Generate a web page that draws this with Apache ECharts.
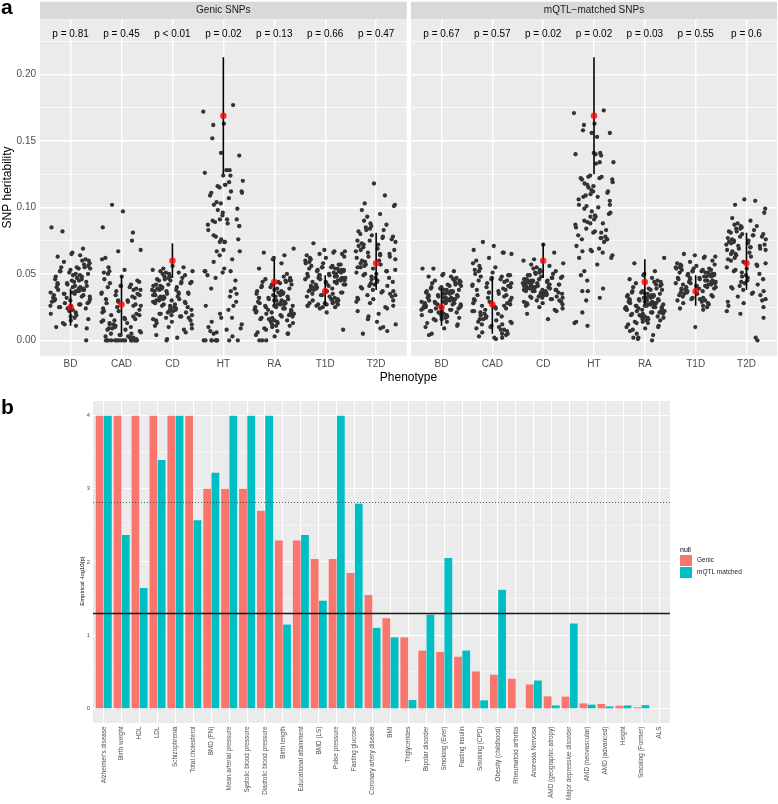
<!DOCTYPE html>
<html><head><meta charset="utf-8">
<script src="https://cdn.jsdelivr.net/npm/echarts@6.0.0/dist/echarts.min.js"></script>
<style>html,body{margin:0;padding:0;background:#fff}#c{width:778px;height:804px}</style>
</head><body><div id="c"></div>
<script>
// ---------- Panel a data ----------
const phenotypes = ['BD','CAD','CD','HT','RA','T1D','T2D'];
const heritTicks = [0, 0.05, 0.10, 0.15, 0.20];
const heritMinor = [0.025, 0.075, 0.125, 0.175, 0.225];
const pLabelsGenic = ['p = 0.81','p = 0.45','p < 0.01','p = 0.02','p = 0.13','p = 0.66','p = 0.47'];
const pLabelsMqtl  = ['p = 0.67','p = 0.57','p = 0.02','p = 0.02','p = 0.03','p = 0.55','p = 0.6'];
const pLabelY = 0.23;
const obsMean = [0.025, 0.027, 0.060, 0.169, 0.044, 0.037, 0.058];
const obsLow  = [0.011, 0.005, 0.047, 0.125, 0.027, 0.026, 0.038];
const obsHigh = [0.039, 0.048, 0.073, 0.213, 0.061, 0.049, 0.081];

const genicBD = [0.085,0.082,0.069,0.066,0.065,0.064,0.063,0.061,0.060,0.060,0.059,0.058,0.057,0.056,0.055,0.055,0.055,0.054,0.054,0.053,0.052,0.052,0.051,0.050,0.050,0.049,0.049,0.048,0.048,0.047,0.046,0.046,0.045,0.045,0.044,0.044,0.043,0.043,0.042,0.042,0.041,0.041,0.040,0.040,0.040,0.039,0.039,0.038,0.038,0.038,0.037,0.037,0.036,0.036,0.035,0.035,0.035,0.034,0.034,0.033,0.033,0.032,0.032,0.031,0.031,0.030,0.030,0.029,0.029,0.028,0.028,0.027,0.027,0.026,0.026,0.025,0.025,0.024,0.024,0.023,0.022,0.021,0.020,0.019,0.018,0.017,0.016,0.015,0.013,0.012,0.011,0.010,0.009,0.000];
const genicCAD = [0.102,0.097,0.085,0.081,0.075,0.068,0.067,0.062,0.061,0.055,0.053,0.052,0.051,0.050,0.048,0.046,0.045,0.044,0.043,0.042,0.041,0.041,0.040,0.040,0.039,0.038,0.038,0.037,0.036,0.035,0.035,0.034,0.034,0.033,0.032,0.031,0.030,0.030,0.029,0.029,0.028,0.027,0.026,0.026,0.025,0.024,0.023,0.022,0.022,0.021,0.020,0.019,0.019,0.018,0.017,0.016,0.016,0.015,0.015,0.014,0.013,0.013,0.012,0.012,0.011,0.010,0.010,0.009,0.009,0.008,0.008,0.007,0.006,0.005,0.005,0.004,0.004,0.003,0.003,0.002,0.002,0.001,0,0,0,0,0,0,0,0,0,0,0,0,0,0,0,0];
const genicCD = [0.056,0.055,0.054,0.053,0.052,0.052,0.051,0.051,0.050,0.050,0.049,0.048,0.048,0.047,0.047,0.046,0.046,0.045,0.045,0.044,0.044,0.043,0.043,0.042,0.042,0.041,0.041,0.040,0.040,0.039,0.039,0.038,0.038,0.038,0.037,0.037,0.036,0.036,0.035,0.035,0.035,0.034,0.034,0.033,0.033,0.033,0.032,0.032,0.031,0.031,0.030,0.030,0.030,0.029,0.029,0.028,0.028,0.027,0.027,0.026,0.026,0.025,0.025,0.024,0.024,0.023,0.023,0.022,0.022,0.021,0.021,0.020,0.020,0.019,0.019,0.018,0.018,0.017,0.017,0.016,0.015,0.015,0.014,0.013,0.012,0.011,0.010,0.009,0.008,0.006,0.004,0.002,0.001,0.000];
const genicHT = [0.177,0.172,0.163,0.162,0.152,0.141,0.139,0.128,0.124,0.128,0.126,0.124,0.117,0.119,0.120,0.117,0.116,0.115,0.112,0.111,0.111,0.112,0.109,0.107,0.104,0.102,0.103,0.099,0.096,0.098,0.094,0.091,0.091,0.090,0.089,0.091,0.087,0.086,0.086,0.083,0.088,0.078,0.079,0.076,0.076,0.074,0.074,0.074,0.067,0.068,0.067,0.064,0.061,0.059,0.052,0.052,0.047,0.045,0.054,0.051,0.052,0.049,0.039,0.037,0.035,0.039,0.029,0.033,0.026,0.026,0.023,0.020,0.017,0.017,0.014,0.012,0.009,0.010,0.008,0.005,0.007,0.006,0.003,0,0,0,0,0,0,0,0,0];
const genicRA = [0.069,0.066,0.064,0.062,0.061,0.058,0.054,0.050,0.048,0.047,0.046,0.045,0.045,0.045,0.044,0.044,0.044,0.043,0.042,0.042,0.041,0.040,0.040,0.039,0.039,0.038,0.037,0.037,0.036,0.036,0.035,0.035,0.034,0.034,0.033,0.033,0.032,0.032,0.032,0.031,0.031,0.030,0.030,0.030,0.029,0.029,0.028,0.028,0.028,0.027,0.027,0.027,0.026,0.026,0.026,0.025,0.025,0.025,0.024,0.024,0.023,0.023,0.023,0.022,0.022,0.021,0.021,0.020,0.020,0.020,0.019,0.019,0.018,0.018,0.017,0.017,0.016,0.016,0.015,0.015,0.014,0.014,0.013,0.013,0.012,0.011,0.011,0.010,0.009,0.008,0.007,0.006,0.005,0.005,0.004,0.003,0,0,0];
const genicT1D = [0.073,0.068,0.067,0.067,0.066,0.065,0.065,0.064,0.063,0.062,0.062,0.061,0.060,0.059,0.058,0.058,0.057,0.057,0.056,0.056,0.055,0.055,0.055,0.054,0.054,0.054,0.053,0.053,0.053,0.052,0.052,0.052,0.051,0.051,0.050,0.050,0.050,0.049,0.049,0.049,0.048,0.048,0.048,0.047,0.047,0.047,0.046,0.046,0.046,0.045,0.045,0.045,0.044,0.044,0.044,0.043,0.043,0.042,0.042,0.042,0.041,0.041,0.040,0.040,0.040,0.039,0.039,0.038,0.038,0.037,0.037,0.036,0.036,0.035,0.035,0.034,0.034,0.033,0.033,0.032,0.031,0.031,0.030,0.030,0.029,0.029,0.028,0.028,0.028,0.027,0.027,0.027,0.026,0.026,0.026,0.025,0.025,0.024,0.021,0.008];
const genicT2D = [0.118,0.109,0.103,0.102,0.101,0.098,0.095,0.093,0.090,0.088,0.087,0.086,0.085,0.084,0.083,0.083,0.082,0.080,0.079,0.078,0.078,0.077,0.076,0.075,0.075,0.074,0.073,0.072,0.072,0.071,0.070,0.069,0.068,0.068,0.067,0.066,0.065,0.065,0.064,0.063,0.063,0.062,0.061,0.060,0.060,0.059,0.058,0.057,0.057,0.056,0.055,0.055,0.054,0.053,0.052,0.052,0.051,0.050,0.050,0.049,0.048,0.047,0.047,0.046,0.045,0.044,0.044,0.043,0.042,0.041,0.041,0.040,0.039,0.038,0.037,0.037,0.036,0.035,0.034,0.034,0.033,0.032,0.031,0.031,0.030,0.029,0.028,0.026,0.025,0.024,0.022,0.020,0.018,0.016,0.014,0.012,0.010,0.009,0.007,0.005];

const mqtlBD = [0.054,0.054,0.052,0.050,0.049,0.048,0.048,0.047,0.046,0.045,0.045,0.044,0.044,0.043,0.043,0.042,0.042,0.041,0.041,0.040,0.040,0.039,0.039,0.038,0.038,0.038,0.037,0.037,0.037,0.036,0.036,0.036,0.035,0.035,0.035,0.034,0.034,0.034,0.033,0.033,0.033,0.032,0.032,0.032,0.032,0.031,0.031,0.031,0.030,0.030,0.030,0.030,0.029,0.029,0.029,0.028,0.028,0.028,0.028,0.027,0.027,0.027,0.026,0.026,0.026,0.025,0.025,0.025,0.024,0.024,0.024,0.023,0.023,0.023,0.022,0.022,0.022,0.021,0.021,0.020,0.020,0.019,0.019,0.018,0.018,0.017,0.017,0.016,0.016,0.015,0.014,0.013,0.012,0.011,0.010,0.009,0.005,0.004];
const mqtlCAD = [0.074,0.071,0.068,0.066,0.066,0.065,0.062,0.060,0.058,0.056,0.055,0.054,0.053,0.052,0.051,0.050,0.049,0.049,0.048,0.048,0.047,0.046,0.046,0.045,0.045,0.044,0.043,0.043,0.042,0.041,0.041,0.040,0.040,0.039,0.038,0.038,0.037,0.036,0.036,0.035,0.034,0.034,0.033,0.032,0.032,0.031,0.030,0.030,0.029,0.028,0.028,0.027,0.026,0.026,0.025,0.024,0.024,0.023,0.022,0.022,0.021,0.020,0.020,0.019,0.018,0.018,0.017,0.016,0.016,0.015,0.014,0.014,0.013,0.012,0.012,0.011,0.010,0.010,0.009,0.008,0.008,0.007,0.006,0.005,0.005,0.004,0.003,0.002,0.002,0.001];
const mqtlCD = [0.072,0.066,0.061,0.060,0.058,0.057,0.056,0.055,0.054,0.053,0.052,0.052,0.051,0.051,0.050,0.050,0.049,0.049,0.048,0.048,0.047,0.047,0.047,0.046,0.046,0.046,0.045,0.045,0.045,0.044,0.044,0.044,0.043,0.043,0.043,0.043,0.042,0.042,0.042,0.042,0.041,0.041,0.041,0.041,0.040,0.040,0.040,0.040,0.039,0.039,0.039,0.039,0.038,0.038,0.038,0.038,0.037,0.037,0.037,0.037,0.036,0.036,0.036,0.035,0.035,0.035,0.034,0.034,0.034,0.033,0.033,0.033,0.032,0.032,0.032,0.031,0.031,0.030,0.030,0.029,0.029,0.028,0.028,0.027,0.027,0.026,0.025,0.024,0.023,0.022,0.020,0.016];
const mqtlHT = [0.173,0.171,0.163,0.162,0.158,0.156,0.156,0.153,0.141,0.141,0.140,0.139,0.140,0.134,0.134,0.133,0.123,0.124,0.123,0.121,0.119,0.121,0.122,0.122,0.117,0.118,0.113,0.112,0.116,0.115,0.112,0.111,0.110,0.108,0.109,0.108,0.106,0.105,0.102,0.102,0.100,0.101,0.099,0.097,0.095,0.094,0.093,0.093,0.096,0.091,0.089,0.088,0.088,0.090,0.087,0.085,0.084,0.083,0.082,0.081,0.081,0.079,0.078,0.077,0.076,0.076,0.076,0.077,0.074,0.071,0.069,0.068,0.067,0.066,0.067,0.064,0.062,0.062,0.057,0.052,0.049,0.045,0.039,0.037,0.037,0.030,0.032,0.021,0.013,0.014,0.011];
const mqtlRA = [0.062,0.058,0.052,0.050,0.049,0.047,0.046,0.045,0.044,0.044,0.043,0.042,0.042,0.041,0.040,0.039,0.039,0.038,0.038,0.037,0.037,0.036,0.036,0.035,0.035,0.035,0.034,0.034,0.034,0.033,0.033,0.033,0.032,0.032,0.032,0.031,0.031,0.031,0.030,0.030,0.030,0.030,0.029,0.029,0.029,0.028,0.028,0.028,0.028,0.027,0.027,0.027,0.027,0.026,0.026,0.026,0.026,0.025,0.025,0.025,0.025,0.024,0.024,0.024,0.023,0.023,0.023,0.022,0.022,0.022,0.021,0.021,0.021,0.020,0.020,0.020,0.019,0.019,0.018,0.018,0.018,0.017,0.017,0.016,0.016,0.015,0.015,0.014,0.014,0.013,0.013,0.012,0.011,0.010,0.010,0.009,0.008,0.007,0.005,0.004,0.002,0.002,0.001,0.000];
const mqtlT1D = [0.065,0.064,0.063,0.063,0.062,0.060,0.059,0.058,0.057,0.057,0.056,0.056,0.055,0.055,0.054,0.054,0.054,0.053,0.053,0.053,0.052,0.052,0.052,0.051,0.051,0.051,0.050,0.050,0.050,0.049,0.049,0.049,0.048,0.048,0.048,0.047,0.047,0.047,0.046,0.046,0.046,0.045,0.045,0.045,0.044,0.044,0.044,0.043,0.043,0.043,0.042,0.042,0.042,0.041,0.041,0.041,0.040,0.040,0.040,0.039,0.039,0.039,0.038,0.038,0.037,0.037,0.036,0.036,0.035,0.035,0.034,0.034,0.033,0.033,0.032,0.032,0.031,0.031,0.030,0.030,0.029,0.028,0.028,0.027,0.026,0.025,0.024,0.023,0.010];
const mqtlT2D = [0.106,0.105,0.102,0.099,0.096,0.092,0.090,0.088,0.087,0.086,0.086,0.085,0.084,0.084,0.083,0.082,0.082,0.081,0.080,0.080,0.079,0.079,0.078,0.078,0.077,0.076,0.076,0.075,0.075,0.074,0.074,0.073,0.073,0.072,0.072,0.071,0.071,0.070,0.070,0.069,0.069,0.068,0.068,0.067,0.066,0.065,0.065,0.064,0.063,0.062,0.061,0.060,0.059,0.058,0.057,0.056,0.055,0.054,0.053,0.052,0.051,0.050,0.049,0.048,0.047,0.046,0.045,0.044,0.043,0.042,0.041,0.040,0.039,0.038,0.037,0.036,0.035,0.034,0.033,0.031,0.030,0.029,0.028,0.026,0.025,0.022,0.020,0.017,0.002,0.000];

// ---------- Panel b data ----------
const traits = ["Alzheimer's disease","Birth weight","HDL","LDL","Schizophrenia","Total cholesterol","BMD (FN)","Mean arterial pressure","Systolic blood pressure","Diastolic blood pressure","Birth length","Educational attainment","BMD (LS)","Pulse pressure","Fasting glucose","Coronary artery disease","BMI","Triglycerides","Bipolar disorder","Smoking (Ever)","Fasting insulin","Smoking (CPD)","Obesity (childhood)","Rheumatoid arthritis","Anorexia Nervosa","AMD (geographic atropy)","Major depressive disorder","AMD (neovascular)","AMD (advanced)","Height","Smoking (Former)","ALS"];
const genicLogP = [4,4,4,4,4,4,3.0,3.0,3.0,2.70,2.295,2.295,2.04,2.04,1.85,1.55,1.23,0.97,0.79,0.77,0.705,0.505,0.46,0.405,0.327,0.164,0.16,0.068,0.06,0.036,0.014,null];
const mqtlLogP  = [4,2.37,1.645,3.395,4,2.57,3.22,4,4,4,1.145,2.37,1.47,4,2.795,1.10,0.97,0.114,1.28,2.055,0.79,0.11,1.62,null,0.38,0.04,1.16,0.05,0.027,0.04,0.045,null];
const logPTicks = [0,1,2,3,4];
const logPMinor = [0.5,1.5,2.5,3.5];
const nominalThreshold = 1.301;
const correctedThreshold = 2.818;

// ---------- helpers ----------
const FONT = 'Liberation Sans, Arial, Helvetica, sans-serif';
// deterministic horizontal jitter (quadratic Weyl sequence), +/-0.4 category widths
const jit = (i, k) => {
  const n = i + 1;
  return ((((n * n * 0.6180339887) + n * 0.4142135624 + k * 0.2357) % 1) - 0.5) * 0.8;
};
const catIdxA = phenotypes.map((_, k) => k);
const catIdxB = traits.map((_, k) => k);
const HIDE = { show: false };

// panel background + white grid lines, drawn through the axes' scales
function panelSeries(gi, hMajor, hMinor, vMajor, xRef, yRef, majorW, minorW) {
  const data = [[xRef, yRef, 2, 0]];
  hMinor.forEach(v => data.push([xRef, v, 0, 0]));
  hMajor.forEach(v => data.push([xRef, v, 0, 1]));
  vMajor.forEach(v => data.push([v, yRef, 1, 1]));
  return {
    type: 'custom', xAxisIndex: gi, yAxisIndex: gi, silent: true, z: 1, clip: false,
    encode: { x: 0, y: 1 }, data,
    renderItem(params, api) {
      const cs = params.coordSys;
      const kind = api.value(2);
      if (kind === 2) {
        return { type: 'rect', z2: 0, shape: { x: cs.x, y: cs.y, width: cs.width, height: cs.height }, style: { fill: '#EBEBEB' } };
      }
      const p = api.coord([api.value(0), api.value(1)]);
      const w = api.value(3) ? majorW : minorW;
      let shape;
      if (kind === 0) {
        const y = Math.round(p[1] - w / 2) + w / 2;
        shape = { x1: cs.x, y1: y, x2: cs.x + cs.width, y2: y };
      } else {
        const x = Math.round(p[0] - w / 2) + w / 2;
        shape = { x1: x, y1: cs.y, x2: x, y2: cs.y + cs.height };
      }
      return { type: 'line', z2: 5, shape, style: { stroke: '#FFFFFF', lineWidth: w } };
    }
  };
}

function facetSeries(gi, lists, pLabels) {
  const pts = [];
  lists.forEach((arr, k) => arr.forEach((v, i) => pts.push([k + jit(i, k), v])));
  return [
    panelSeries(gi, heritTicks, heritMinor, catIdxA, 0, 0.1, 1.4, 0.8),
    { type: 'scatter', xAxisIndex: gi, yAxisIndex: gi, data: pts, symbolSize: 4.3, silent: true, z: 3,
      itemStyle: { color: '#333333', opacity: 1 } },
    { type: 'custom', xAxisIndex: gi, yAxisIndex: gi, silent: true, z: 4, encode: { x: 0, y: [1, 2] },
      data: catIdxA.map(k => [k, obsLow[k], obsHigh[k]]),
      renderItem(params, api) {
        const a = api.coord([api.value(0), api.value(1)]);
        const b = api.coord([api.value(0), api.value(2)]);
        return { type: 'line', shape: { x1: a[0], y1: a[1], x2: b[0], y2: b[1] }, style: { stroke: '#000', lineWidth: 1.6 } };
      } },
    { type: 'scatter', xAxisIndex: gi, yAxisIndex: gi, data: catIdxA.map(k => [k, obsMean[k]]), symbolSize: 6.5, silent: true, z: 5,
      itemStyle: { color: '#FF0000' } },
    { type: 'custom', xAxisIndex: gi, yAxisIndex: gi, silent: true, z: 5, clip: false, encode: { x: 0, y: 1 },
      data: catIdxA.map(k => [k, pLabelY]),
      renderItem(params, api) {
        const p = api.coord([api.value(0), api.value(1)]);
        return { type: 'text', x: p[0], y: p[1], style: { text: pLabels[params.dataIndex], align: 'center', verticalAlign: 'middle', fontSize: 10, fontFamily: FONT, fill: '#000' } };
      } }
  ];
}

function xAxisA(gi) {
  return { gridIndex: gi, type: 'value', min: -0.6, max: 6.6,
    axisLine: HIDE, splitLine: HIDE,
    axisTick: { show: true, customValues: catIdxA, length: 3, lineStyle: { color: '#333', width: 1 } },
    axisLabel: { customValues: catIdxA, formatter: v => phenotypes[Math.round(v)], color: '#4D4D4D', fontSize: 10, fontFamily: FONT, margin: 4 } };
}
function yAxisA(gi, showLabels) {
  return { gridIndex: gi, type: 'value', min: -0.0115, max: 0.2415,
    axisLine: HIDE, splitLine: HIDE,
    axisTick: { show: showLabels, customValues: heritTicks, length: 3, lineStyle: { color: '#333', width: 1 } },
    axisLabel: { show: showLabels, customValues: heritTicks, formatter: v => v.toFixed(2), color: '#4D4D4D', fontSize: 10, fontFamily: FONT, margin: 4 } };
}

const chart = echarts.init(document.getElementById('c'), null, { renderer: 'canvas' });
chart.setOption({
  backgroundColor: '#ffffff',
  animation: false,
  textStyle: { fontFamily: FONT },
  grid: [
    { left: 40, top: 19.3, width: 366.7, height: 336.4, show: false, outerBoundsMode: 'none' },
    { left: 411, top: 19.3, width: 366, height: 336.4, show: false, outerBoundsMode: 'none' },
    { left: 93, top: 401, width: 577, height: 322, show: false, outerBoundsMode: 'none' }
  ],
  xAxis: [
    xAxisA(0), xAxisA(1),
    { gridIndex: 2, type: 'value', min: -0.6, max: 31.6,
      axisLine: HIDE, splitLine: HIDE,
      axisTick: { show: true, customValues: catIdxB, length: 2.5, lineStyle: { color: '#333', width: 0.8 } },
      axisLabel: { customValues: catIdxB, rotate: 90, formatter: v => traits[Math.round(v)], color: '#4D4D4D', fontSize: 6.4, fontFamily: FONT, margin: 3.5 } }
  ],
  yAxis: [
    yAxisA(0, true), yAxisA(1, false),
    { gridIndex: 2, type: 'value', min: -0.2, max: 4.2,
      axisLine: HIDE, splitLine: HIDE,
      axisTick: { show: true, customValues: logPTicks, length: 2.5, lineStyle: { color: '#333', width: 0.8 } },
      axisLabel: { customValues: logPTicks, formatter: v => String(Math.round(v)), color: '#4D4D4D', fontSize: 5.8, fontFamily: FONT, margin: 3 } }
  ],
  legend: {
    data: ['Genic', 'mQTL matched'], orient: 'vertical', left: 680, top: 555,
    itemWidth: 12, itemHeight: 11, itemGap: 1, icon: 'rect', padding: 0, selectedMode: false,
    textStyle: { fontSize: 6.5, color: '#1A1A1A', fontFamily: FONT }
  },
  series: [
    ...facetSeries(0, [genicBD, genicCAD, genicCD, genicHT, genicRA, genicT1D, genicT2D], pLabelsGenic),
    ...facetSeries(1, [mqtlBD, mqtlCAD, mqtlCD, mqtlHT, mqtlRA, mqtlT1D, mqtlT2D], pLabelsMqtl),
    panelSeries(2, logPTicks, logPMinor, catIdxB, 0, 1, 1.1, 0.6),
    { name: 'Genic', type: 'bar', xAxisIndex: 2, yAxisIndex: 2, z: 2,
      data: genicLogP.map((v, i) => [i, v === null ? '-' : v]),
      barWidth: 7.8, barGap: '5%', itemStyle: { color: '#F8766D' },
      markLine: { symbol: 'none', silent: true, z: 6, label: { show: false }, animation: false,
        data: [
          { yAxis: correctedThreshold, lineStyle: { type: [1, 2], color: '#333', width: 0.8 } },
          { yAxis: nominalThreshold, lineStyle: { type: 'solid', color: '#1A1A1A', width: 1.3 } }
        ] } },
    { name: 'mQTL matched', type: 'bar', xAxisIndex: 2, yAxisIndex: 2, z: 2,
      data: mqtlLogP.map((v, i) => [i, v === null ? '-' : v]),
      barWidth: 7.8, barGap: '5%', itemStyle: { color: '#00BFC4' } }
  ],
  graphic: [
    { type: 'rect', shape: { x: 40, y: 1.7, width: 366.7, height: 17.6 }, style: { fill: '#D9D9D9' }, silent: true },
    { type: 'rect', shape: { x: 411, y: 1.7, width: 366, height: 17.6 }, style: { fill: '#D9D9D9' }, silent: true },
    { type: 'text', x: 223.3, y: 10.5, silent: true, style: { text: 'Genic SNPs', align: 'center', verticalAlign: 'middle', fontSize: 10, fontFamily: FONT, fill: '#1A1A1A' } },
    { type: 'text', x: 594, y: 10.5, silent: true, style: { text: 'mQTL\u2212matched SNPs', align: 'center', verticalAlign: 'middle', fontSize: 10, fontFamily: FONT, fill: '#1A1A1A' } },
    { type: 'text', x: 1, y: 8, silent: true, style: { text: 'a', align: 'left', verticalAlign: 'middle', fontSize: 21, fontWeight: 'bold', fontFamily: FONT, fill: '#000' } },
    { type: 'text', x: 1, y: 408, silent: true, style: { text: 'b', align: 'left', verticalAlign: 'middle', fontSize: 21, fontWeight: 'bold', fontFamily: FONT, fill: '#000' } },
    { type: 'text', x: 408.5, y: 378, silent: true, style: { text: 'Phenotype', align: 'center', verticalAlign: 'middle', fontSize: 12, fontFamily: FONT, fill: '#000' } },
    { type: 'text', x: 8, y: 187.5, rotation: Math.PI / 2, silent: true, style: { text: 'SNP heritability', align: 'center', verticalAlign: 'middle', fontSize: 12, fontFamily: FONT, fill: '#000' } },
    { type: 'text', x: 82, y: 581, rotation: Math.PI / 2, silent: true, style: { text: 'Empirical -log10(p)', align: 'center', verticalAlign: 'middle', fontSize: 5.9, fontFamily: FONT, fill: '#000' } },
    { type: 'text', x: 680, y: 550, silent: true, style: { text: 'null', align: 'left', verticalAlign: 'middle', fontSize: 7, fontFamily: FONT, fill: '#000' } }
  ]
});
</script>
</body></html>
